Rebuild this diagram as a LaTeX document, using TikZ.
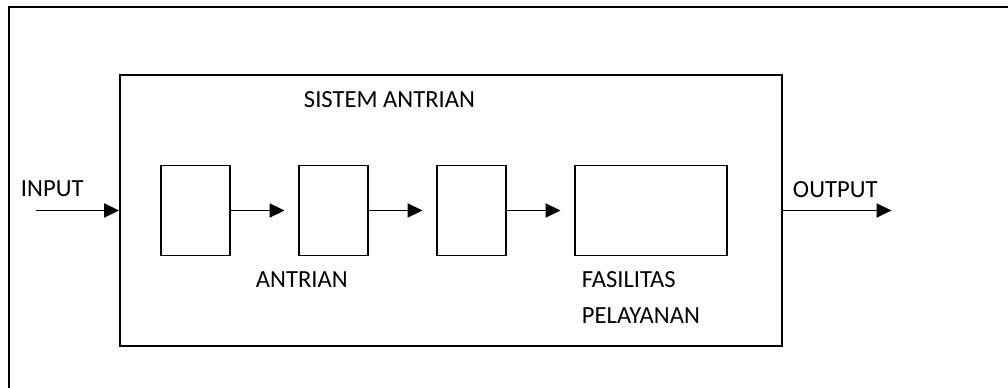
\documentclass[tikz,border=0pt]{standalone}
\usepackage{fontspec}
\setmainfont{Carlito}
\usepackage{tikz}
\usetikzlibrary{arrows.meta}
\usetikzlibrary{positioning}
\tikzset{
    boxnode/.style = {rectangle, draw=black, line width=1.1pt, inner sep=0pt},
    lbl/.style = {anchor=base west, inner sep=0pt, font=\fontsize{14}{16}\selectfont},
}

\begin{document}
\begin{tikzpicture}[
	scale=1,
	line width=1.1pt
]
\tikzset{
    antrian/.style = {boxnode, minimum width=1.38cm, minimum height=1.8cm},
    layanan/.style = {boxnode, minimum width=3.04cm, minimum height=1.8cm},
    edgea/.style = {-{Triangle[length=0.3cm,width=0.28cm]}},
    edgeq/.style = {edgea, shorten >=0.27cm}
}
\useasboundingbox (0,0) rectangle (20.16,7.74);
% outer frame, runs off the page at right and bottom
\begin{scope}
\clip (0,0) rectangle (20.16,7.74);
\draw (0.18,-1) rectangle (21,7.6);
\end{scope}
%
\node[boxnode, minimum width=13.24cm, minimum height=5.42cm] at (9.02,3.53) (sys) {};
\node[antrian] at (3.91,3.53) (q1) {};
\node[antrian] at (6.67,3.53) (q2) {};
\node[antrian] at (9.43,3.53) (q3) {};
\node[layanan] at (13.02,3.53) (srv) {};
\coordinate (in) at (0.72,3.53);
\coordinate (out) at (17.83,3.53);
%
\draw[edgea] (in) -- (sys.west);
\draw[edgeq] (q1) -- (q2);
\draw[edgeq] (q2) -- (q3);
\draw[edgeq] (q3) -- (srv);
\draw[edgea] (sys.east) -- (out);
%
\node[lbl] at (6.06,5.58) (tsys) {SISTEM ANTRIAN};
\node[lbl] at (0.4,3.8) (tin) {INPUT};
\node[lbl] at (15.84,3.78) (tout) {OUTPUT};
\node[lbl] at (5.1,1.98) (tq) {ANTRIAN};
\node[lbl] at (11.62,1.98) (tsrv1) {FASILITAS};
\node[lbl] at (11.62,1.26) (tsrv2) {PELAYANAN};
\end{tikzpicture}
\end{document}
